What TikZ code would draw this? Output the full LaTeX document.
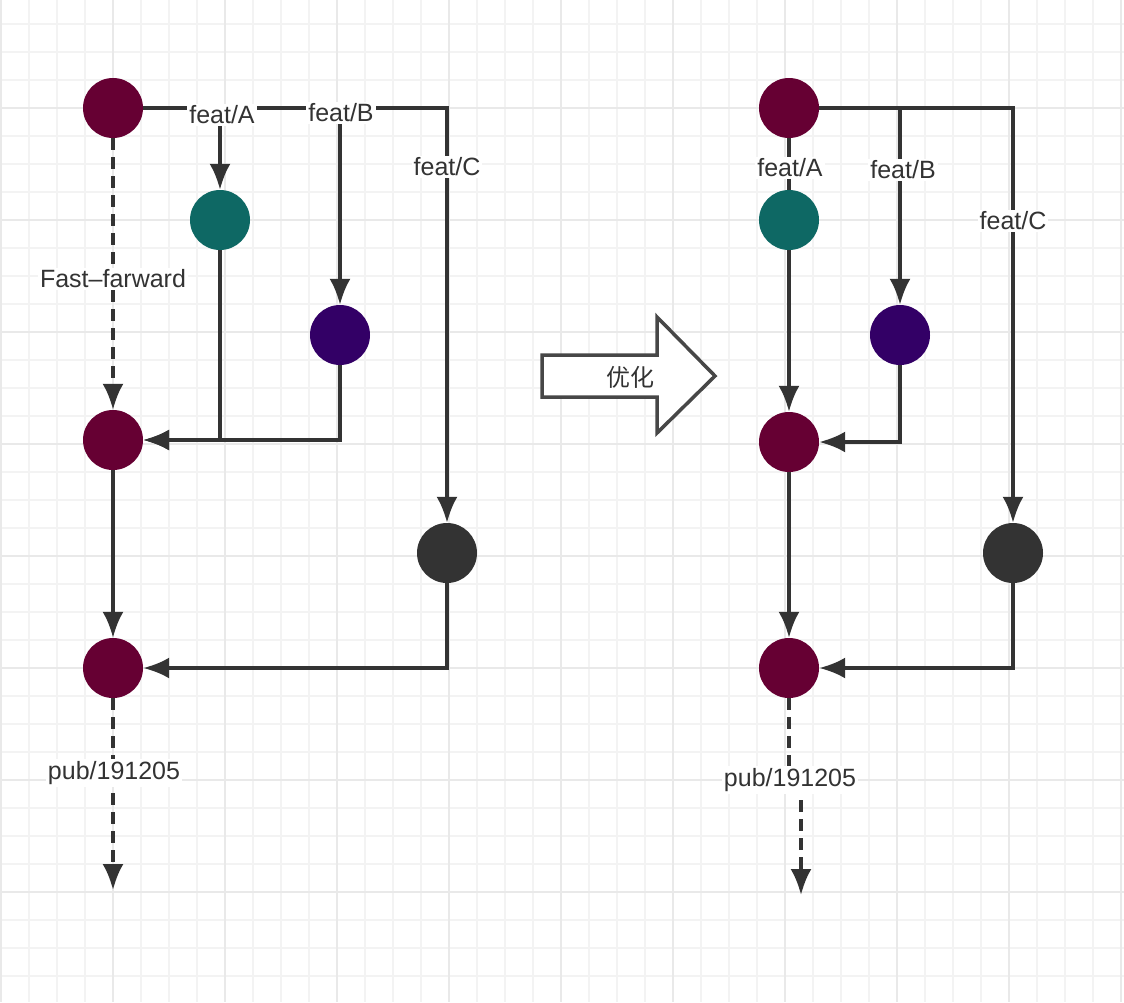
\documentclass[tikz,border=0pt]{standalone}
\usepackage{fontspec}
\setmainfont{Liberation Sans}
\newfontfamily\cjkfont{Noto Sans CJK SC}
\usetikzlibrary{arrows.meta}
\definecolor{commitred}{HTML}{660033}
\definecolor{committeal}{HTML}{0E6864}
\definecolor{commitpurple}{HTML}{330066}
\definecolor{commitgray}{HTML}{333333}
\definecolor{linegray}{HTML}{333333}
\definecolor{txtgray}{HTML}{333333}
\definecolor{gridlight}{HTML}{F3F3F3}
\definecolor{griddark}{HTML}{E9E9E9}
\tikzset{
  commit/.style={circle, fill=#1, minimum size=60pt, inner sep=0pt},
  link/.style={line width=3.5pt, draw=linegray},
  branch/.style={link, -{Latex[length=26pt,width=21pt]}},
  ffwd/.style={dash pattern=on 12pt off 7pt},
  lbl/.style={fill=white, text=txtgray, inner sep=2pt, font=\fontsize{25}{30}\selectfont},
  gridminor/.style={draw=gridlight, line width=1.5pt},
  gridmajor/.style={draw=griddark, line width=2pt},
  bigarrow/.style={draw=linegray!90!white, line width=3.5pt, fill=white, line join=miter}
}
\begin{document}
\begin{tikzpicture}[x=1pt, y=-1pt]
	\useasboundingbox (0,0) rectangle (1124,1002);
	\fill[white] (0,0) rectangle (1124,1002);
	% grid paper
	\foreach \gx in {1,29,...,1121} \draw[gridminor] (\gx,0) -- (\gx,1002);
	\foreach \gy in {24,52,...,976} \draw[gridminor] (0,\gy) -- (1124,\gy);
	\foreach \gx in {1,113,...,1121} \draw[gridmajor] (\gx,0) -- (\gx,1002);
	\foreach \gy in {108,220,...,892} \draw[gridmajor] (0,\gy) -- (1124,\gy);

	% before
	\node[commit=commitred] (l0) at (113,108) {};
	\node[commit=committeal] (la) at (220,220) {};
	\node[commit=commitpurple] (lb) at (340,335) {};
	\node[commit=commitred] (lm) at (113,440) {};
	\node[commit=commitgray] (lc) at (447,553) {};
	\node[commit=commitred] (lp) at (113,668) {};
	\coordinate (lka) at (220,108);
	\coordinate (lkb) at (340,108);
	\coordinate (lkc) at (447,108);
	\coordinate (lend) at (113,890);
	\draw[branch] (l0.east) -- (lkc) -- (lc.north);
	\draw[branch] (lka) -- (la.north);
	\draw[branch] (lkb) -- (lb.north);
	\draw[branch,ffwd] (l0.south) -- (lm.north);
	\draw[branch] (la.south) |- (lm.east);
	\draw[branch] (lb.south) |- (lm.east);
	\draw[branch] (lm.south) -- (lp.north);
	\draw[branch] (lc.south) |- (lp.east);
	\draw[branch,ffwd] (lp.south) -- (lend);
	\node[lbl] (lta) at (222,115) {feat/A};
	\node[lbl] (ltb) at (341,113) {feat/B};
	\node[lbl] (ltc) at (447,167) {feat/C};
	\node[lbl] (ltf) at (113,279) {Fast–farward};
	\node[lbl] (ltp) at (114,773) {pub/191205};

	% optimise arrow
	\draw[bigarrow] (542,355) -- (657,355) -- (657,317) -- (715,376) -- (657,433) -- (657,397) -- (542,397) -- cycle;
	\node[text=txtgray, font=\cjkfont\fontsize{24}{28}\selectfont] (opt) at (630,377) {优化};

	% after
	\node[commit=commitred] (r0) at (789,108) {};
	\node[commit=committeal] (ra) at (789,220) {};
	\node[commit=commitpurple] (rb) at (900,335) {};
	\node[commit=commitred] (rm) at (789,442) {};
	\node[commit=commitgray] (rc) at (1013,553) {};
	\node[commit=commitred] (rp) at (789,668) {};
	\coordinate (rkb) at (900,108);
	\coordinate (rkc) at (1013,108);
	\coordinate (rjog) at (789,780);
	\coordinate (rjog2) at (801,780);
	\coordinate (rend) at (801,895);
	\draw[branch] (r0.east) -- (rkc) -- (rc.north);
	\draw[branch] (rkb) -- (rb.north);
	\draw[link] (r0.south) -- (ra.north);
	\draw[branch] (ra.south) -- (rm.north);
	\draw[branch] (rb.south) |- (rm.east);
	\draw[branch] (rm.south) -- (rp.north);
	\draw[branch] (rc.south) |- (rp.east);
	\draw[branch,ffwd] (rp.south) -- (rjog) -- (rjog2) -- (rend);
	\node[lbl] (rta) at (790,168) {feat/A};
	\node[lbl] (rtb) at (903,170) {feat/B};
	\node[lbl] (rtc) at (1013,221) {feat/C};
	\node[lbl] (rtp) at (790,780) {pub/191205};
\end{tikzpicture}
\end{document}
